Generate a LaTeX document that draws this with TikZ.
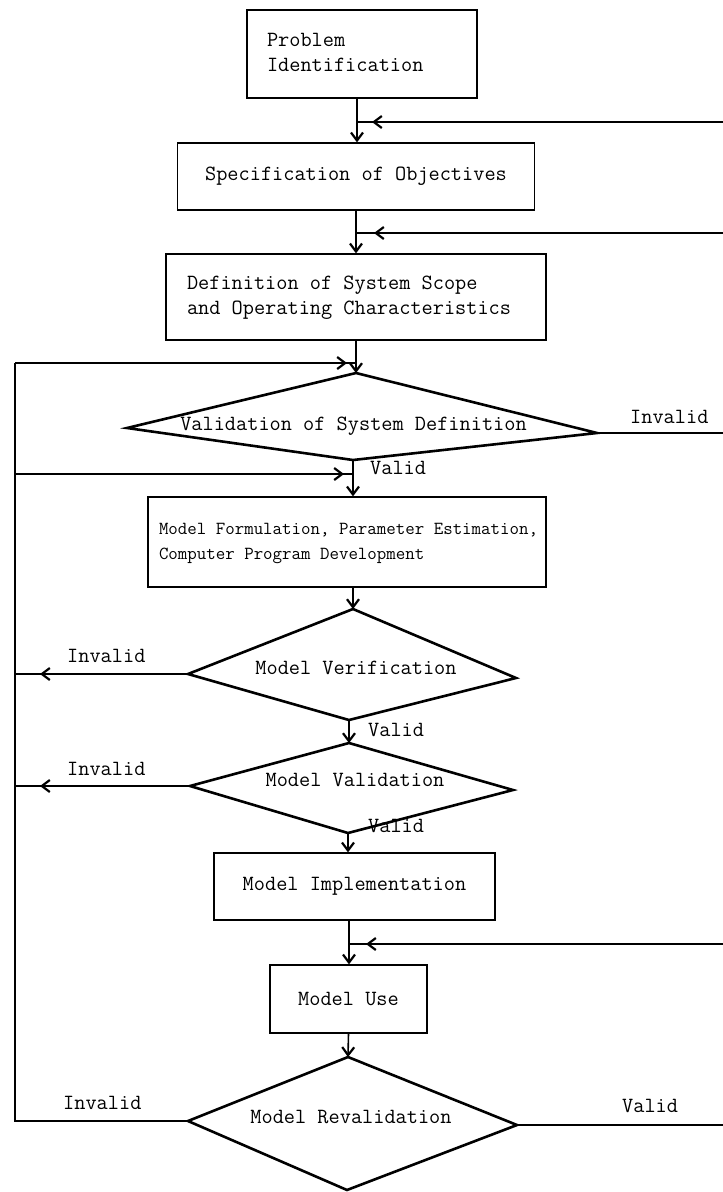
\documentclass[tikz,border=0pt]{standalone}
\usepackage{fontspec}
\usetikzlibrary{arrows.meta,decorations.markings}
\newcommand{\leftlines}[1]{\noindent\spaceskip=0pt\xspaceskip=0pt\begin{tabular}{@{}l@{}}#1\end{tabular}}
\begin{document}
\begin{tikzpicture}[x=1pt,y=-1pt,
  font=\fontsize{21.7}{24.5}\selectfont\ttfamily,
  barbtip/.tip={Straight Barb[length=8pt,width=12pt,line width=2.2pt]},
  box/.style={draw, line width=1.3pt, inner ysep=0pt},
  diaedge/.style={draw, line width=2.6pt, line join=miter},
  conn/.style={line width=1.6pt},
  down/.style={conn, -barbtip},
  flowarrow/.style={conn, postaction={decorate},
    decoration={markings, mark=at position #1 with {\arrow{barbtip}}}},
  lbl/.style={inner sep=0pt, anchor=base west},
  dtext/.style={inner sep=0pt, anchor=base}
]
\useasboundingbox (0,0) rectangle (723,1192);

% ---------- boxes ----------
\node[box, minimum width=230, minimum height=88, inner xsep=20, text width=190]
  (b1) at (362,54) {\leftlines{Problem\\Identification}};
\node[box, minimum width=357, minimum height=67, align=center]
  (b2) at (356,176.5) {Specification of Objectives};
\node[box, minimum width=380, minimum height=86, inner xsep=21, text width=338]
  (b3) at (356,297) {\leftlines{Definition of System Scope\\and Operating Characteristics}};
\node[box, minimum width=398, minimum height=90, inner xsep=11, text width=376,
      font=\fontsize{18.4}{24.5}\selectfont\ttfamily]
  (b4) at (347,542) {\leftlines{Model Formulation, Parameter Estimation,\\Computer Program Development}};
\node[box, minimum width=281, minimum height=67, align=center]
  (b5) at (354.5,886.5) {Model Implementation};
\node[box, minimum width=157, minimum height=68, align=center]
  (b6) at (348.5,999) {Model Use};

% ---------- diamonds ----------
\coordinate (d1n) at (356,373); \coordinate (d1e) at (597,433);
\coordinate (d1s) at (353,460); \coordinate (d1w) at (127,428);
\draw[diaedge] (d1n) -- (d1e) -- (d1s) -- (d1w) -- cycle;
\node[dtext] (d1t) at (353.5,430) {Validation of System Definition};

\coordinate (d2n) at (353,609); \coordinate (d2e) at (516,678);
\coordinate (d2s) at (349,720); \coordinate (d2w) at (188,674);
\draw[diaedge] (d2n) -- (d2e) -- (d2s) -- (d2w) -- cycle;
\node[dtext] (d2t) at (356,674) {Model Verification};

\coordinate (d3n) at (349,743); \coordinate (d3e) at (513,790);
\coordinate (d3s) at (348,833); \coordinate (d3w) at (190,786);
\draw[diaedge] (d3n) -- (d3e) -- (d3s) -- (d3w) -- cycle;
\node[dtext] (d3t) at (355,786) {Model Validation};

\coordinate (d4n) at (348,1057); \coordinate (d4e) at (517,1125);
\coordinate (d4s) at (347,1190); \coordinate (d4w) at (188,1121);
\draw[diaedge] (d4n) -- (d4e) -- (d4s) -- (d4w) -- cycle;
\node[dtext] (d4t) at (351,1123) {Model Revalidation};

% ---------- junctions and free ends ----------
\coordinate (j0) at (357,122);  \coordinate (r0) at (723,122);
\coordinate (j1) at (356,233);  \coordinate (r1) at (723,233);
\coordinate (jl1) at (356,363); \coordinate (ltop) at (15,363);
\coordinate (jl2) at (353,474); \coordinate (lmid) at (15,474);
\coordinate (r2) at (723,433);
\coordinate (l2) at (15,674);
\coordinate (l3) at (15,786);
\coordinate (j3) at (349,944);  \coordinate (r3) at (723,944);
\coordinate (l4) at (15,1121);
\coordinate (r4) at (723,1125);

% ---------- main flow ----------
\draw[down] (j0 |- b1.south) -- (j0 |- b2.north);
\draw[down] (b2.south) -- (b3.north);
\draw[down] (b3.south) -- (d1n);
\draw[down] (d1s) -- (d1s |- b4.north);
\draw[down] (d2n |- b4.south) -- (d2n);
\draw[down] (d2s) -- (d3n);
\draw[down] (d3s) -- (d3s |- b5.north);
\draw[down] (j3 |- b5.south) -- (j3 |- b6.north);
\draw[down] (b6.south) -- (d4n);

% ---------- feedback lines ----------
\draw[flowarrow=-15pt] (r0) -- (j0);
\draw[flowarrow=-18pt] (r1) -- (j1);
\draw[flowarrow=-17pt] (r3) -- (j3);
\draw[conn] (d1e) -- (r2);
\draw[conn] (d4e) -- (r4);
\draw[conn] (d4w) -- (l4) -- (ltop);
\draw[flowarrow=-9pt] (ltop) -- (jl1);
\draw[flowarrow=-9pt] (lmid) -- (jl2);
\draw[flowarrow=-25pt] (d2w) -- (l2);
\draw[flowarrow=-25pt] (d3w) -- (l3);

% ---------- labels ----------
\node[lbl] (t1) at (630,423) {Invalid};
\node[lbl] (t2) at (370,474) {Valid};
\node[lbl] (t3) at (67,662) {Invalid};
\node[lbl] (t4) at (368,736) {Valid};
\node[lbl] (t5) at (67,775) {Invalid};
\node[lbl] (t6) at (368,832) {Valid};
\node[lbl] (t7) at (63,1109) {Invalid};
\node[lbl] (t8) at (622,1112) {Valid};
\end{tikzpicture}
\end{document}
